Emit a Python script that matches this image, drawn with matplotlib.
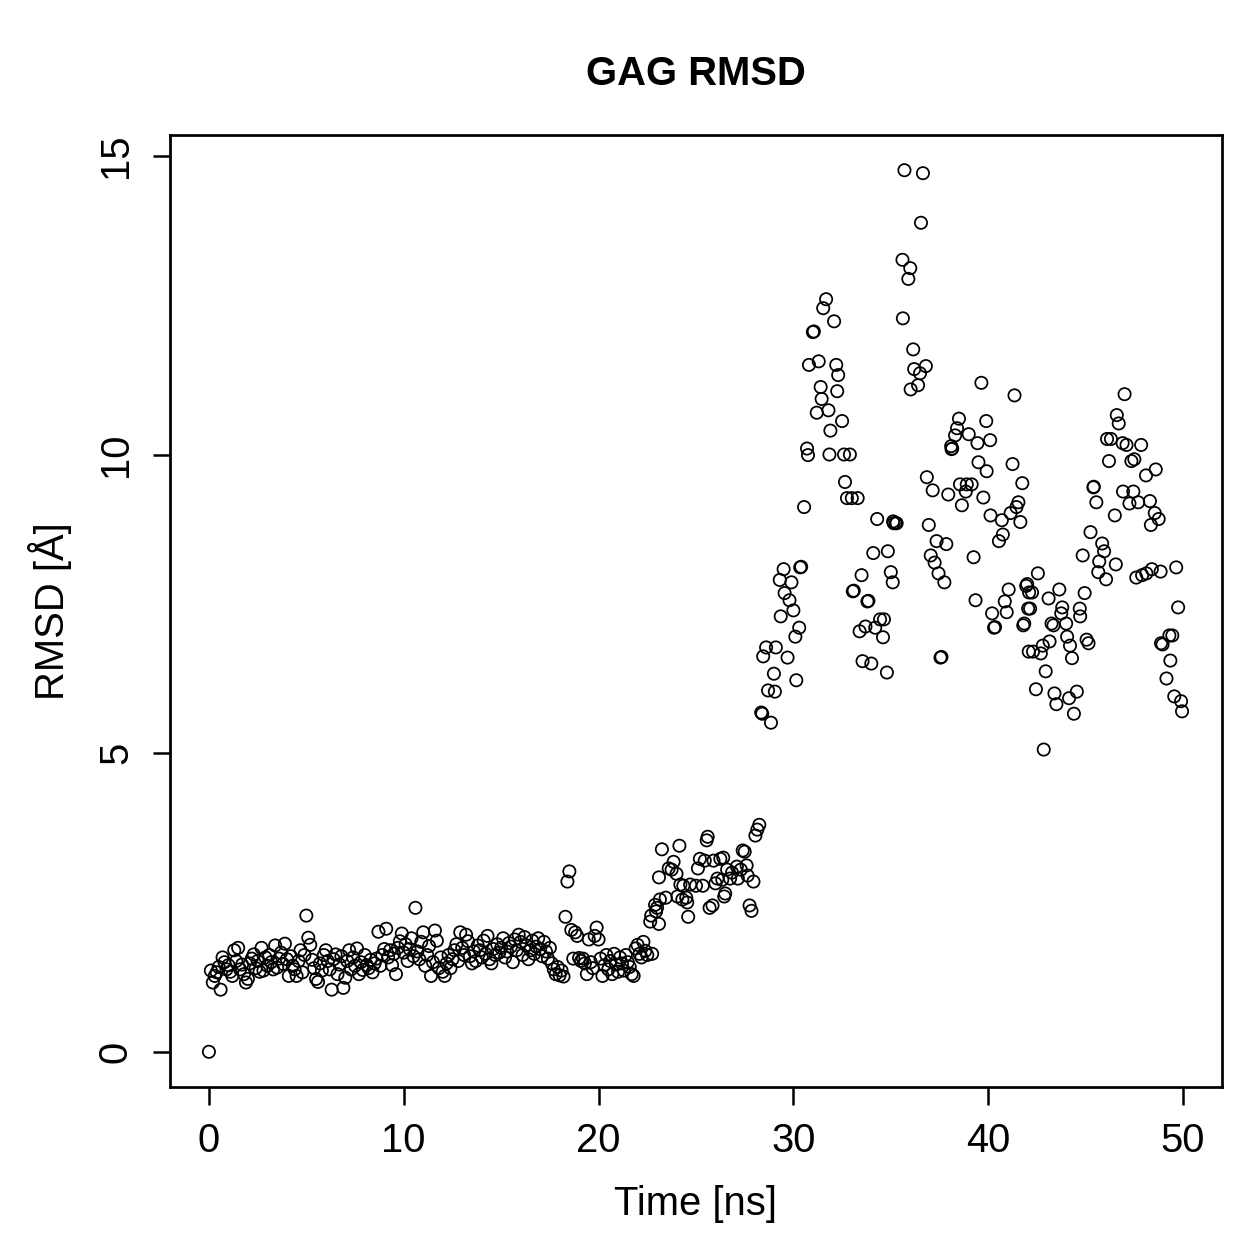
import numpy as np
import matplotlib
matplotlib.use("Agg")
import matplotlib.pyplot as plt

plt.rcParams['font.family'] = ['Liberation Sans', 'DejaVu Sans']

# RMSD, 0.0 - 22.5 ns every 0.1 ns
low_time = np.round(np.arange(0, 226) * 0.1, 1)
low_rmsd = [
    0.00, 1.36, 1.16, 1.27, 1.33, 1.42, 1.04, 1.58, 1.50, 1.38,
    1.45, 1.34, 1.27, 1.70, 1.52, 1.74, 1.38, 1.46, 1.30, 1.16,
    1.22, 1.48, 1.56, 1.63, 1.40, 1.52, 1.34, 1.74, 1.36, 1.58,
    1.44, 1.62, 1.50, 1.38, 1.78, 1.41, 1.56, 1.66, 1.47, 1.81,
    1.55, 1.27, 1.60, 1.44, 1.38, 1.27, 1.52, 1.70, 1.33, 1.62,
    2.28, 1.91, 1.79, 1.54, 1.40, 1.22, 1.17, 1.48, 1.36, 1.62,
    1.70, 1.52, 1.38, 1.04, 1.55, 1.63, 1.30, 1.46, 1.60, 1.07,
    1.24, 1.52, 1.70, 1.38, 1.58, 1.44, 1.73, 1.30, 1.50, 1.37,
    1.62, 1.45, 1.40, 1.54, 1.33, 1.48, 1.56, 2.01, 1.44, 1.62,
    1.72, 2.06, 1.58, 1.70, 1.45, 1.64, 1.30, 1.74, 1.85, 1.98,
    1.66, 1.80, 1.52, 1.72, 1.90, 1.60, 2.41, 1.68, 1.55, 1.84,
    2.00, 1.44, 1.62, 1.77, 1.27, 1.50, 2.03, 1.86, 1.40, 1.58,
    1.34, 1.27, 1.48, 1.62, 1.40, 1.55, 1.70, 1.80, 1.52, 2.00,
    1.74, 1.62, 1.96, 1.85, 1.60, 1.48, 1.68, 1.52, 1.78, 1.70,
    1.58, 1.86, 1.64, 1.94, 1.55, 1.48, 1.72, 1.62, 1.80, 1.66,
    1.74, 1.90, 1.58, 1.68, 1.82, 1.76, 1.50, 1.88, 1.70, 1.96,
    1.84, 1.62, 1.92, 1.78, 1.55, 1.70, 1.86, 1.64, 1.76, 1.90,
    1.72, 1.60, 1.84, 1.68, 1.56, 1.74, 1.48, 1.38, 1.30, 1.42,
    1.28, 1.36, 1.26, 2.26, 2.85, 3.02, 2.04, 1.56, 2.00, 1.94,
    1.57, 1.52, 1.56, 1.48, 1.30, 1.88, 1.50, 1.40, 1.94, 2.08,
    1.88, 1.56, 1.27, 1.45, 1.62, 1.38, 1.52, 1.30, 1.64, 1.46,
    1.34, 1.58, 1.48, 1.36, 1.62, 1.50, 1.42, 1.30, 1.27, 1.73,
    1.79, 1.64, 1.58, 1.84, 1.69, 1.62,
]

# after 22.5 ns the points were read one by one (time, rmsd)
high_time = [
    22.65, 22.7, 22.75, 22.9, 22.95, 23.0, 23.1, 23.1, 23.15, 23.25,
    23.45, 23.6, 23.75, 23.85, 24.0, 24.05, 24.15, 24.2, 24.3, 24.35,
    24.5, 24.55, 24.6, 24.7, 25.0, 25.1, 25.2, 25.35, 25.45, 25.55,
    25.6, 25.7, 25.85, 25.9, 26.0, 26.1, 26.25, 26.35, 26.4, 26.45,
    26.5, 26.6, 26.75, 26.85, 27.1, 27.15, 27.3, 27.4, 27.5, 27.6,
    27.65, 27.75, 27.85, 27.95, 28.05, 28.15, 28.25,
    28.35, 28.4, 28.45, 28.6, 28.7, 28.85, 29.0, 29.05, 29.1, 29.3,
    29.35, 29.5, 29.55, 29.7, 29.8, 29.9, 30.0, 30.1, 30.15, 30.3,
    30.35, 30.4, 30.55, 30.7, 30.75, 30.8, 31.0, 31.05, 31.2, 31.3,
    31.4, 31.45, 31.53, 31.68, 31.8, 31.85, 31.9, 32.09, 32.2, 32.25,
    32.3, 32.5, 32.6, 32.65, 32.75, 32.9, 33.0, 33.05, 33.1, 33.3,
    33.4, 33.5, 33.55, 33.7, 33.8, 33.85, 34.0, 34.1, 34.2, 34.3,
    34.45, 34.6, 34.65, 34.8, 34.85, 35.0, 35.1, 35.12, 35.15, 35.25,
    35.3, 35.6, 35.62, 35.7, 35.9, 36.0, 36.02, 36.15, 36.2, 36.4,
    36.5, 36.55, 36.65, 36.8, 36.85, 36.95, 37.05, 37.15, 37.25, 37.35,
    37.45, 37.55, 37.6, 37.75, 37.85, 37.95, 38.1, 38.12, 38.15, 38.3,
    38.4, 38.5, 38.55, 38.65, 38.85, 38.9, 39.0, 39.15, 39.25, 39.35,
    39.45, 39.5, 39.65, 39.75, 39.9, 39.92, 40.1, 40.12, 40.2, 40.3,
    40.35, 40.55, 40.7, 40.75, 40.85, 40.95, 41.05, 41.15, 41.25, 41.35,
    41.45, 41.55, 41.65, 41.75, 41.8, 41.85, 41.95, 42.0, 42.05, 42.08,
    42.1, 42.15, 42.25, 42.3, 42.45, 42.55, 42.7, 42.8, 42.85, 42.95,
    43.1, 43.15, 43.25, 43.35, 43.4, 43.5, 43.65, 43.75, 43.8, 44.0,
    44.05, 44.15, 44.2, 44.3, 44.4, 44.55, 44.7, 44.72, 44.85, 44.95,
    45.05, 45.15, 45.25, 45.4, 45.42, 45.55, 45.65, 45.7, 45.85, 45.95,
    46.05, 46.1, 46.2, 46.3, 46.5, 46.55, 46.6, 46.7, 46.9, 46.92,
    47.0, 47.1, 47.25, 47.35, 47.45, 47.5, 47.6, 47.7, 47.85, 47.9,
    48.1, 48.12, 48.3, 48.35, 48.4, 48.55, 48.6, 48.75, 48.85, 48.87,
    48.95, 49.15, 49.3, 49.35, 49.45, 49.55, 49.65, 49.75, 49.9, 49.95,
]
high_rmsd = [
    2.18, 2.28, 1.64, 2.46, 2.35, 2.41, 2.92, 2.14, 2.55, 3.39,
    2.58, 3.07, 3.05, 3.18, 2.98, 2.60, 3.45, 2.80, 2.55, 2.78,
    2.58, 2.50, 2.26, 2.80, 2.78, 3.07, 3.23, 2.78, 3.20, 3.54,
    3.60, 2.41, 2.45, 3.20, 2.82, 2.90, 3.23, 2.88, 3.25, 2.60,
    2.65, 3.05, 2.90, 3.00, 3.10, 2.90, 3.05, 3.37, 3.35, 3.12,
    2.95, 2.45, 2.36, 2.85, 3.62, 3.72, 3.80,
    5.68, 5.66, 6.62, 6.77, 6.05, 5.51, 6.33, 6.03, 6.77, 7.90,
    7.29, 8.08, 7.68, 6.60, 7.56, 7.86, 7.39, 6.95, 6.22, 7.10,
    8.11, 8.12, 9.12, 10.10, 9.99, 11.50, 12.05, 12.06, 10.70, 11.56,
    11.13, 10.93, 12.45, 12.60, 10.74, 10.00, 10.40, 12.23, 11.50, 11.06,
    11.33, 10.56, 10.00, 9.54, 9.27, 10.00, 9.27, 7.71, 7.72, 9.27,
    7.04, 7.98, 6.54, 7.12, 7.54, 7.55, 6.50, 8.35, 7.10, 8.92,
    7.24, 6.94, 7.24, 6.35, 8.38, 8.03, 7.86, 8.88, 8.85, 8.85,
    8.85, 13.26, 12.28, 14.76, 12.94, 13.12, 11.09, 11.76, 11.43, 11.16,
    11.36, 13.88, 14.71, 11.48, 9.62, 8.82, 8.31, 9.40, 8.19, 8.55,
    8.01, 6.60, 6.61, 7.86, 8.50, 9.33, 10.14, 10.09, 10.10, 10.32,
    10.44, 10.60, 9.50, 9.15, 9.38, 9.50, 10.34, 9.50, 8.28, 7.56,
    10.19, 9.87, 11.20, 9.28, 10.56, 9.72, 10.24, 8.98, 7.34, 7.10,
    7.11, 8.55, 8.90, 8.66, 7.54, 7.36, 7.74, 9.02, 9.84, 10.99,
    9.12, 9.20, 8.87, 9.52, 7.14, 7.17, 7.80, 7.83, 7.42, 6.70,
    7.69, 7.42, 7.69, 6.70, 6.07, 8.01, 6.67, 6.80, 5.06, 6.37,
    7.59, 6.87, 7.17, 7.14, 6.00, 5.82, 7.74, 7.34, 7.44, 7.17,
    6.95, 5.92, 6.80, 6.59, 5.66, 6.03, 7.42, 7.29, 8.31, 7.68,
    6.90, 6.84, 8.70, 9.45, 9.46, 9.20, 8.03, 8.21, 8.51, 8.38,
    7.91, 10.26, 9.89, 10.26, 8.98, 8.16, 10.66, 10.52, 10.19, 9.38,
    11.01, 10.16, 9.18, 9.89, 9.38, 9.92, 7.94, 9.20, 10.16, 7.98,
    9.65, 8.01, 9.22, 8.82, 8.08, 9.02, 9.75, 8.92, 8.04, 6.84,
    6.82, 6.25, 6.97, 6.55, 6.97, 5.95, 8.11, 7.44, 5.87, 5.70,
]

time_ns = np.concatenate([low_time, high_time])
rmsd = np.concatenate([low_rmsd, high_rmsd])

fig = plt.figure(figsize=(1259 / 180, 1259 / 180), dpi=180)
ax = fig.add_axes([0.135, 0.1366, 0.8356, 0.7562])

ax.scatter(time_ns, rmsd, s=24, facecolors='none', edgecolors='black', linewidths=0.7)

ax.set_xlim(-2, 52)
ax.set_ylim(-0.59, 15.35)
ax.set_xticks([0, 10, 20, 30, 40, 50])
ax.set_yticks([0, 5, 10, 15])
ax.set_yticklabels(['0', '5', '10', '15'], rotation=90, va='center')
ax.tick_params(direction='out', length=7, width=1, labelsize=16, pad=7)
for s in ax.spines.values():
    s.set_linewidth(1.1)

ax.set_xlabel('Time [ns]', fontsize=16, labelpad=10)
ax.set_ylabel('RMSD [Å]', fontsize=16, labelpad=10)
ax.set_title('GAG RMSD', fontsize=16, fontweight='bold', pad=20)

fig.savefig('out.png', dpi=180)
